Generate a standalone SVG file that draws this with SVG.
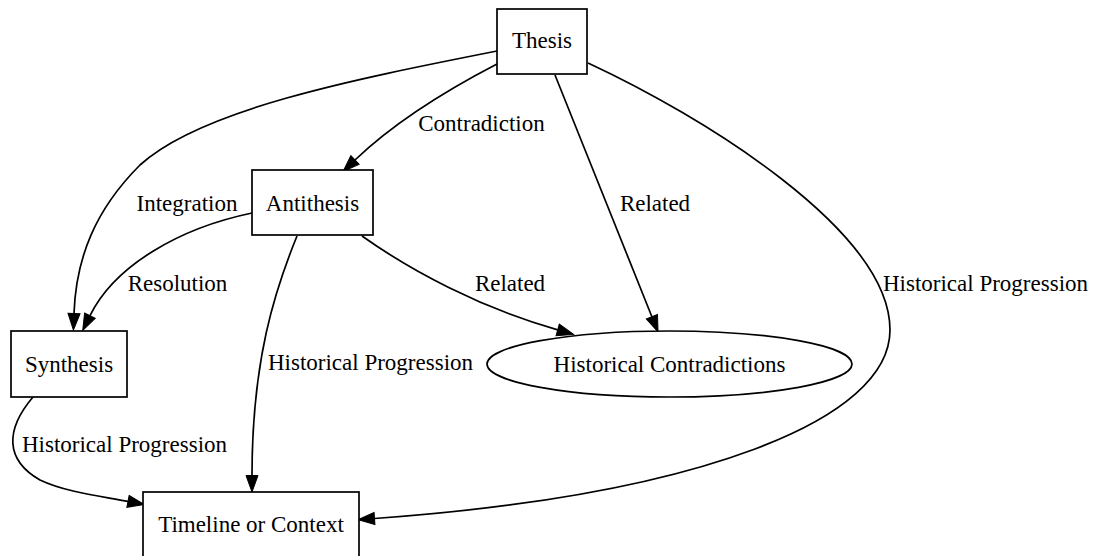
<svg xmlns="http://www.w3.org/2000/svg" width="1097" height="556" viewBox="0 0 1097 556">
  <style>
    .node { fill: #ffffff; stroke: #000000; stroke-width: 1.7; }
    .edge { fill: none; stroke: #000000; stroke-width: 1.7; marker-end: url(#arrow); }
    text { font-family: "Liberation Serif", "Times New Roman", serif; font-size: 23px; fill: #000000; text-anchor: middle; }
  </style>
  <defs>
    <marker id="arrow" markerUnits="userSpaceOnUse" markerWidth="18" markerHeight="14" refX="0" refY="6.5" orient="auto" overflow="visible">
      <path d="M0,0.5 L16.5,6.5 L0,12.5 z" fill="#000000" stroke="#000000" stroke-width="1"/>
    </marker>
  </defs>
  <rect width="1097" height="556" fill="#ffffff"/>

  <g id="connectors">
    <!-- Thesis -> Antithesis -->
    <path class="edge" d="M497,64 C470,78 402,115 355,160"/>
    <text x="481.5" y="131">Contradiction</text>
    <!-- Thesis -> Synthesis -->
    <path class="edge" d="M497,51 C350,80 200,110 140,165 C95,210 76,258 74,313.5"/>
    <text x="187" y="211">Integration</text>
    <!-- Antithesis -> Synthesis -->
    <path class="edge" d="M252,213 C180,228 115,265 90,315.6"/>
    <text x="177.5" y="291">Resolution</text>
    <!-- Antithesis -> Timeline or Context -->
    <path class="edge" d="M297,236 C275,290 252,360 252,475.5"/>
    <text x="370.5" y="370">Historical Progression</text>
    <!-- Antithesis -> Historical Contradictions -->
    <path class="edge" d="M362,236 C410,270 480,308 557.7,329.9"/>
    <text x="510" y="291">Related</text>
    <!-- Thesis -> Historical Contradictions -->
    <path class="edge" d="M555,75 L651.9,316.7"/>
    <text x="655" y="211">Related</text>
    <!-- Thesis -> Timeline or Context -->
    <path class="edge" d="M588,63 C700,115 890,230 890,330 C890,420 700,495 374.5,518.5"/>
    <text x="985.5" y="291">Historical Progression</text>
    <!-- Synthesis -> Timeline or Context -->
    <path class="edge" d="M33,397 C5,430 5,460 40,480 C65,492 100,496 128,501.4"/>
    <text x="124.5" y="452">Historical Progression</text>
  </g>

  <g id="thesis">
    <rect class="node" x="497" y="9" width="90" height="65"/>
    <text x="542" y="48">Thesis</text>
  </g>
  <g id="antithesis">
    <rect class="node" x="252" y="170" width="121" height="65"/>
    <text x="312.5" y="211">Antithesis</text>
  </g>
  <g id="synthesis">
    <rect class="node" x="11" y="331" width="116" height="66"/>
    <text x="69" y="372">Synthesis</text>
  </g>
  <g id="historical-contradictions">
    <ellipse class="node" cx="669.5" cy="364" rx="182.5" ry="33"/>
    <text x="669.5" y="372">Historical Contradictions</text>
  </g>
  <g id="timeline-or-context">
    <rect class="node" x="143" y="492" width="216" height="66"/>
    <text x="251" y="532">Timeline or Context</text>
  </g>
</svg>
